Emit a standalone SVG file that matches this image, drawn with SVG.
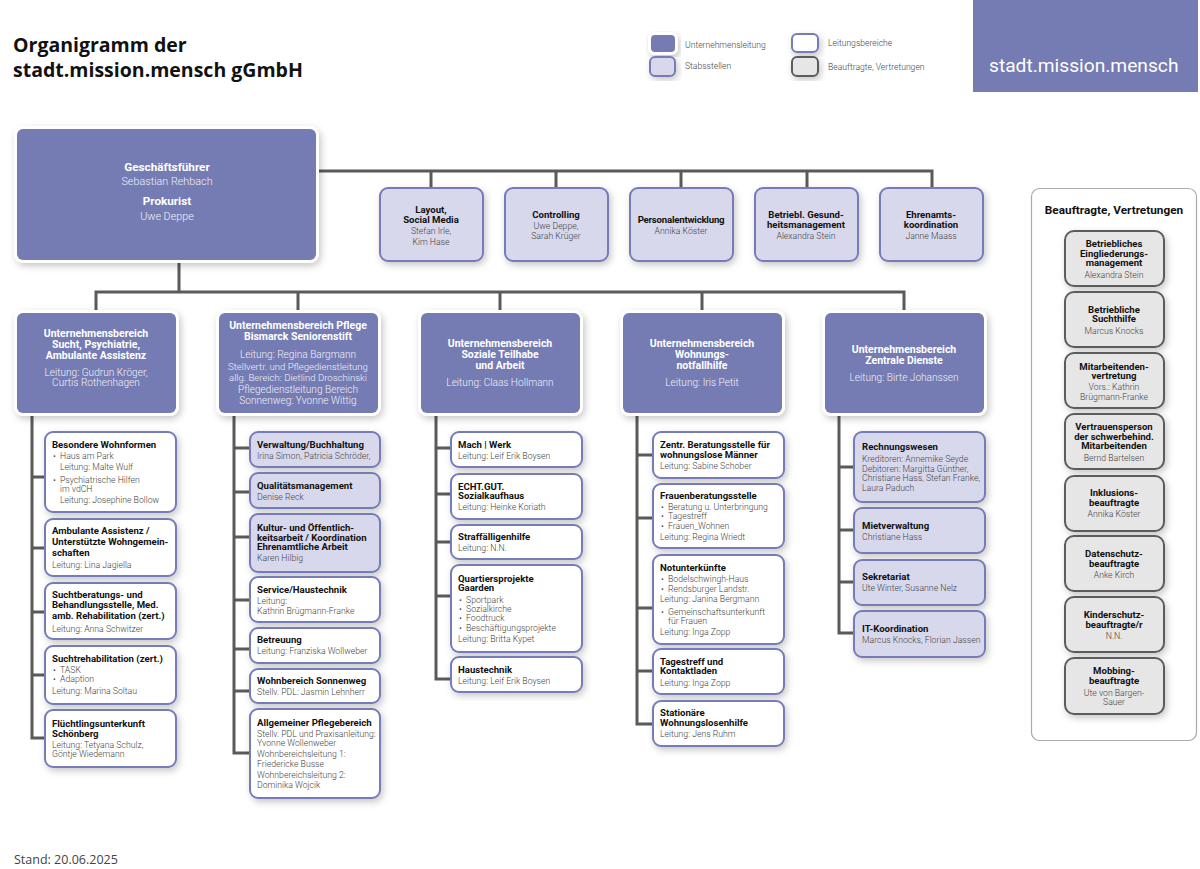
<svg xmlns="http://www.w3.org/2000/svg" width="1200" height="869" viewBox="0 0 1200 869">
<style>
text{font-family:Roboto,"Open Sans","Liberation Sans",sans-serif}
.b{font-size:9.600px;font-weight:700;fill:#111}
.t{font-size:8.700px;font-weight:300;fill:#444}
.c{text-anchor:middle}
.wb{font-size:10.500px;font-weight:700;fill:#fff;text-anchor:middle}
.wt{font-size:10.100px;font-weight:300;fill:#f0f0f8;text-anchor:middle}
.wn{font-size:9.600px}
.wbl{font-size:11.700px}
.wtl{font-size:10.800px}
.l{font-size:8.600px;font-weight:300;fill:#444}
.o{font-family:"Open Sans","Liberation Sans",sans-serif}
.m{fill:#757bb3;stroke:#fff;stroke-width:6;paint-order:stroke;filter:url(#s)}
.p{fill:#fff;stroke:#757bb8;stroke-width:2;filter:url(#s)}
.q{fill:#d8d8ec;stroke:#757bb8;stroke-width:2;filter:url(#s)}
.g{fill:#e6e6e6;stroke:#5c5c5c;stroke-width:2;filter:url(#s)}
.cn{fill:none;stroke:#5a5a5a;stroke-width:3}
</style>
<defs><filter id="s" x="-20%" y="-20%" width="145%" height="145%"><feDropShadow dx="2" dy="3" stdDeviation="3.500" flood-color="#000" flood-opacity=".22"/></filter></defs>
<rect width="1200" height="869" fill="#fff"/>
<g id="title"><text class="o" x="13" y="52" font-size="19.500" font-weight="700" fill="#111">Organigramm der</text><text class="o" x="13" y="77" font-size="19.500" font-weight="700" fill="#111">stadt.mission.mensch gGmbH</text></g>
<g id="legend">
<rect class="m" x="651" y="35" width="24" height="17" rx="4"/><text class="l" x="685" y="48">Unternehmensleitung</text>
<rect class="q" x="650" y="57" width="25" height="19" rx="5"/><text class="l" x="685" y="69">Stabsstellen</text>
<rect class="p" x="792" y="34" width="26" height="18" rx="5"/><text class="l" x="828" y="46">Leitungsbereiche</text>
<rect class="g" x="792" y="57" width="26" height="19" rx="5"/><text class="l" x="828" y="70">Beauftragte, Vertretungen</text>
</g>
<g id="logo"><rect x="973" y="0" width="225" height="92" fill="#757bb3"/><text x="989" y="72" font-size="19.200" fill="#fff">stadt.mission.mensch</text></g>
<g id="connectors">
<path class="cn" d="M318 171H932V188M431 171V188M556 171V188M681 171V188M807 171V188"/>
<path class="cn" d="M179 262V292M96 312V292H904V312M298 292V312M500 292V312M702 292V312"/>
<path class="cn" d="M32 414V738H45M32 477H45M32 548H45M32 612H45M32 675H45"/>
<path class="cn" d="M234 414V753H250M234 448H250M234 492H250M234 537H250M234 600H250M234 649H250M234 691H250"/>
<path class="cn" d="M436 414V679H451M436 448H451M436 494H451M436 542H451M436 596H451"/>
<path class="cn" d="M637 414V724H653M637 455H653M637 518H653M637 608H653M637 671H653"/>
<path class="cn" d="M839 414V633H854M839 467H854M839 530H854M839 582H854"/>
</g>
<g id="ceo"><rect class="m" x="17" y="129" width="299" height="131" rx="6"/>
<text class="wb wbl" x="167" y="171">Geschäftsführer</text><text class="wt wtl" x="167" y="185">Sebastian Rehbach</text><text class="wb wbl" x="167" y="205">Prokurist</text><text class="wt wtl" x="167" y="220">Uwe Deppe</text></g>
<g id="stab1"><rect class="q" x="380" y="188" width="103" height="73" rx="8"/><text class="b c" x="431" y="213">Layout,</text><text class="b c" x="431" y="223">Social Media</text><text class="t c" x="431" y="234">Stefan Irle,</text><text class="t c" x="431" y="245">Kim Hase</text></g>
<g id="stab2"><rect class="q" x="505" y="188" width="103" height="73" rx="8"/><text class="b c" x="556" y="218">Controlling</text><text class="t c" x="556" y="229">Uwe Deppe,</text><text class="t c" x="556" y="239">Sarah Krüger</text></g>
<g id="stab3"><rect class="q" x="630" y="188" width="103" height="73" rx="8"/><text class="b c" x="681" y="223" letter-spacing="-.2">Personalentwicklung</text><text class="t c" x="681" y="234">Annika Köster</text></g>
<g id="stab4"><rect class="q" x="755" y="188" width="103" height="73" rx="8"/><text class="b c" x="806" y="218">Betriebl. Gesund-</text><text class="b c" x="806" y="228">heitsmanagement</text><text class="t c" x="806" y="239">Alexandra Stein</text></g>
<g id="stab5"><rect class="q" x="880" y="188" width="103" height="73" rx="8"/><text class="b c" x="931" y="218">Ehrenamts-</text><text class="b c" x="931" y="228">koordination</text><text class="t c" x="931" y="239">Janne Maass</text></g>
<g id="div1"><rect class="m" x="17" y="313" width="159" height="100" rx="6"/><text class="wb" x="96" y="337">Unternehmensbereich</text><text class="wb" x="96" y="348">Sucht, Psychiatrie,</text><text class="wb" x="96" y="359">Ambulante Assistenz</text><text class="wt" x="96" y="376">Leitung: Gudrun Kröger,</text><text class="wt" x="96" y="386">Curtis Rothenhagen</text></g>
<g id="div2"><rect class="m" x="219" y="313" width="159" height="100" rx="6"/><text class="wb" x="298" y="329">Unternehmensbereich Pflege</text><text class="wb" x="298" y="340">Bismarck Seniorenstift</text><text class="wt" x="298" y="358">Leitung: Regina Bargmann</text><text class="wt wn" x="298" y="370">Stellvertr. und Pflegedienstleitung</text><text class="wt wn" x="298" y="381">allg. Bereich: Dietlind Droschinski</text><text class="wt" x="298" y="393">Pflegedienstleitung Bereich</text><text class="wt" x="298" y="404">Sonnenweg: Yvonne Wittig</text></g>
<g id="div3"><rect class="m" x="421" y="313" width="159" height="100" rx="6"/><text class="wb" x="500" y="347">Unternehmensbereich</text><text class="wb" x="500" y="358">Soziale Teilhabe</text><text class="wb" x="500" y="369">und Arbeit</text><text class="wt" x="500" y="386">Leitung: Claas Hollmann</text></g>
<g id="div4"><rect class="m" x="623" y="313" width="159" height="100" rx="6"/><text class="wb" x="702" y="347">Unternehmensbereich</text><text class="wb" x="702" y="358">Wohnungs-</text><text class="wb" x="702" y="369">notfallhilfe</text><text class="wt" x="702" y="386">Leitung: Iris Petit</text></g>
<g id="div5"><rect class="m" x="825" y="313" width="159" height="100" rx="6"/><text class="wb" x="904" y="353">Unternehmensbereich</text><text class="wb" x="904" y="364">Zentrale Dienste</text><text class="wt" x="904" y="381">Leitung: Birte Johanssen</text></g>
<g id="c1a"><rect class="p" x="45" y="432" width="131" height="80" rx="8"/><text class="b" x="52" y="448">Besondere Wohnformen</text><text class="t" x="53" y="459">•</text><text class="t" x="60" y="459">Haus am Park</text><text class="t" x="60" y="470">Leitung: Malte Wulf</text><text class="t" x="53" y="483">•</text><text class="t" x="60" y="483">Psychiatrische Hilfen</text><text class="t" x="60" y="492">im vdCH</text><text class="t" x="60" y="503">Leitung: Josephine Bollow</text></g>
<g id="c1b"><rect class="p" x="45" y="519" width="131" height="57" rx="8"/><text class="b" x="52" y="534">Ambulante Assistenz /</text><text class="b" x="52" y="545">Unterstützte Wohngemein-</text><text class="b" x="52" y="556">schaften</text><text class="t" x="52" y="568">Leitung: Lina Jagiella</text></g>
<g id="c1c"><rect class="p" x="45" y="583" width="131" height="56" rx="8"/><text class="b" x="52" y="598">Suchtberatungs- und</text><text class="b" x="52" y="608">Behandlungsstelle, Med.</text><text class="b" x="52" y="619">amb. Rehabilitation (zert.)</text><text class="t" x="52" y="632">Leitung: Anna Schwitzer</text></g>
<g id="c1d"><rect class="p" x="45" y="646" width="131" height="58" rx="8"/><text class="b" x="52" y="662">Suchtrehabilitation (zert.)</text><text class="t" x="53" y="673">•</text><text class="t" x="60" y="673">TASK</text><text class="t" x="53" y="682">•</text><text class="t" x="60" y="682">Adaption</text><text class="t" x="52" y="694">Leitung: Marina Soltau</text></g>
<g id="c1e"><rect class="p" x="45" y="710" width="131" height="57" rx="8"/><text class="b" x="52" y="727">Flüchtlingsunterkunft</text><text class="b" x="52" y="737">Schönberg</text><text class="t" x="52" y="748">Leitung: Tetyana Schulz,</text><text class="t" x="52" y="757">Göntje Wiedemann</text></g>
<g id="c2a"><rect class="q" x="250" y="432" width="130" height="35" rx="8"/><text class="b" x="257" y="448">Verwaltung/Buchhaltung</text><text class="t" x="257" y="459">Irina Simon, Patricia Schröder,</text></g>
<g id="c2b"><rect class="q" x="250" y="473" width="130" height="35" rx="8"/><text class="b" x="257" y="489">Qualitätsmanagement</text><text class="t" x="257" y="500">Denise Reck</text></g>
<g id="c2c"><rect class="q" x="250" y="514" width="130" height="58" rx="8"/><text class="b" x="257" y="531">Kultur- und Öffentlich-</text><text class="b" x="257" y="541">keitsarbeit / Koordination</text><text class="b" x="257" y="550">Ehrenamtliche Arbeit</text><text class="t" x="257" y="561">Karen Hilbig</text></g>
<g id="c2d"><rect class="p" x="250" y="577" width="130" height="45" rx="8"/><text class="b" x="257" y="593">Service/Haustechnik</text><text class="t" x="257" y="604">Leitung:</text><text class="t" x="257" y="614">Kathrin Brügmann-Franke</text></g>
<g id="c2e"><rect class="p" x="250" y="628" width="130" height="35" rx="8"/><text class="b" x="257" y="643">Betreuung</text><text class="t" x="257" y="654">Leitung: Franziska Wollweber</text></g>
<g id="c2f"><rect class="p" x="250" y="669" width="130" height="34" rx="8"/><text class="b" x="257" y="684">Wohnbereich Sonnenweg</text><text class="t" x="257" y="695">Stellv. PDL: Jasmin Lehnherr</text></g>
<g id="c2g"><rect class="p" x="250" y="709" width="130" height="89" rx="8"/><text class="b" x="257" y="726">Allgemeiner Pflegebereich</text><text class="t" x="257" y="737">Stellv. PDL und Praxisanleitung:</text><text class="t" x="257" y="746">Yvonne Wollenweber</text><text class="t" x="257" y="757">Wohnbereichsleitung 1:</text><text class="t" x="257" y="767">Friedericke Busse</text><text class="t" x="257" y="778">Wohnbereichsleitung 2:</text><text class="t" x="257" y="788">Dominika Wojcik</text></g>
<g id="c3a"><rect class="p" x="451" y="432" width="131" height="35" rx="8"/><text class="b" x="458" y="448">Mach | Werk</text><text class="t" x="458" y="459">Leitung: Leif Erik Boysen</text></g>
<g id="c3b"><rect class="p" x="451" y="474" width="131" height="45" rx="8"/><text class="b" x="458" y="490">ECHT.GUT.</text><text class="b" x="458" y="499">Sozialkaufhaus</text><text class="t" x="458" y="510">Leitung: Heinke Koriath</text></g>
<g id="c3c"><rect class="p" x="451" y="525" width="131" height="34" rx="8"/><text class="b" x="458" y="540">Straffälligenhilfe</text><text class="t" x="458" y="551">Leitung: N.N.</text></g>
<g id="c3d"><rect class="p" x="451" y="565" width="131" height="87" rx="8"/><text class="b" x="458" y="582">Quartiersprojekte</text><text class="b" x="458" y="591">Gaarden</text><text class="t" x="459" y="603">•</text><text class="t" x="466" y="603">Sportpark</text><text class="t" x="459" y="612">•</text><text class="t" x="466" y="612">Sozialkirche</text><text class="t" x="459" y="621">•</text><text class="t" x="466" y="621">Foodtruck</text><text class="t" x="459" y="631">•</text><text class="t" x="466" y="631">Beschäftigungsprojekte</text><text class="t" x="458" y="642">Leitung: Britta Kypet</text></g>
<g id="c3e"><rect class="p" x="451" y="657" width="131" height="35" rx="8"/><text class="b" x="458" y="673">Haustechnik</text><text class="t" x="458" y="684">Leitung: Leif Erik Boysen</text></g>
<g id="c4a"><rect class="p" x="653" y="432" width="131" height="46" rx="8"/><text class="b" x="660" y="448">Zentr. Beratungsstelle für</text><text class="b" x="660" y="458">wohnungslose Männer</text><text class="t" x="660" y="469">Leitung: Sabine Schober</text></g>
<g id="c4b"><rect class="p" x="653" y="484" width="131" height="64" rx="8"/><text class="b" x="660" y="499">Frauenberatungsstelle</text><text class="t" x="661" y="510">•</text><text class="t" x="668" y="510">Beratung u. Unterbringung</text><text class="t" x="661" y="519">•</text><text class="t" x="668" y="519">Tagestreff</text><text class="t" x="661" y="529">•</text><text class="t" x="668" y="529">Frauen_Wohnen</text><text class="t" x="660" y="540">Leitung: Regina Wriedt</text></g>
<g id="c4c"><rect class="p" x="653" y="555" width="131" height="89" rx="8"/><text class="b" x="660" y="571">Notunterkünfte</text><text class="t" x="661" y="582">•</text><text class="t" x="668" y="582">Bodelschwingh-Haus</text><text class="t" x="661" y="592">•</text><text class="t" x="668" y="592">Rendsburger Landstr.</text><text class="t" x="660" y="602">Leitung: Janina Bergmann</text><text class="t" x="661" y="615">•</text><text class="t" x="668" y="615">Gemeinschaftsunterkunft</text><text class="t" x="668" y="624">für Frauen</text><text class="t" x="660" y="635">Leitung: Inga Zopp</text></g>
<g id="c4d"><rect class="p" x="653" y="649" width="131" height="45" rx="8"/><text class="b" x="660" y="665">Tagestreff und</text><text class="b" x="660" y="674">Kontaktladen</text><text class="t" x="660" y="686">Leitung: Inga Zopp</text></g>
<g id="c4e"><rect class="p" x="653" y="701" width="131" height="45" rx="8"/><text class="b" x="660" y="716">Stationäre</text><text class="b" x="660" y="726">Wohnungslosenhilfe</text><text class="t" x="660" y="737">Leitung: Jens Ruhm</text></g>
<g id="c5a"><rect class="q" x="854" y="432" width="131" height="70" rx="8"/><text class="b" x="862" y="450">Rechnungswesen</text><text class="t" x="862" y="462">Kreditoren: Annemike Seyde</text><text class="t" x="862" y="472">Debitoren: Margitta Günther,</text><text class="t" x="862" y="481">Christiane Hass, Stefan Franke,</text><text class="t" x="862" y="491">Laura Paduch</text></g>
<g id="c5b"><rect class="q" x="854" y="508" width="131" height="45" rx="8"/><text class="b" x="862" y="529">Mietverwaltung</text><text class="t" x="862" y="540">Christiane Hass</text></g>
<g id="c5c"><rect class="q" x="854" y="560" width="131" height="45" rx="8"/><text class="b" x="862" y="580">Sekretariat</text><text class="t" x="862" y="591">Ute Winter, Susanne Nelz</text></g>
<g id="c5d"><rect class="q" x="854" y="611" width="131" height="46" rx="8"/><text class="b" x="862" y="632">IT-Koordination</text><text class="t" x="862" y="643">Marcus Knocks, Florian Jassen</text></g>
<g id="panel"><rect x="1031.500" y="188.500" width="165" height="552" rx="8" fill="#fff" stroke="#aaa" stroke-width="1.200"/><text x="1114" y="214" font-size="11.800" font-weight="700" fill="#111" text-anchor="middle">Beauftragte, Vertretungen</text></g>
<g id="r1"><rect class="g" x="1065" y="231" width="99" height="55" rx="9"/><text class="b c" x="1114" y="247">Betriebliches</text><text class="b c" x="1114" y="257">Eingliederungs-</text><text class="b c" x="1114" y="266">management</text><text class="t c" x="1114" y="278">Alexandra Stein</text></g>
<g id="r2"><rect class="g" x="1065" y="292" width="99" height="55" rx="9"/><text class="b c" x="1114" y="313">Betriebliche</text><text class="b c" x="1114" y="322">Suchthilfe</text><text class="t c" x="1114" y="334">Marcus Knocks</text></g>
<g id="r3"><rect class="g" x="1065" y="353" width="99" height="55" rx="9"/><text class="b c" x="1114" y="370">Mitarbeitenden-</text><text class="b c" x="1114" y="379">vertretung</text><text class="t c" x="1114" y="390">Vors.: Kathrin</text><text class="t c" x="1114" y="400">Brügmann-Franke</text></g>
<g id="r4"><rect class="g" x="1065" y="414" width="99" height="55" rx="9"/><text class="b c" x="1114" y="430">Vertrauensperson</text><text class="b c" x="1114" y="440">der schwerbehind.</text><text class="b c" x="1114" y="449">Mitarbeitenden</text><text class="t c" x="1114" y="461">Bernd Bartelsen</text></g>
<g id="r5"><rect class="g" x="1065" y="476" width="99" height="55" rx="9"/><text class="b c" x="1114" y="496">Inklusions-</text><text class="b c" x="1114" y="506">beauftragte</text><text class="t c" x="1114" y="517">Annika Köster</text></g>
<g id="r6"><rect class="g" x="1065" y="536" width="99" height="55" rx="9"/><text class="b c" x="1114" y="557">Datenschutz-</text><text class="b c" x="1114" y="567">beauftragte</text><text class="t c" x="1114" y="578">Anke Kirch</text></g>
<g id="r7"><rect class="g" x="1065" y="597" width="99" height="55" rx="9"/><text class="b c" x="1114" y="618">Kinderschutz-</text><text class="b c" x="1114" y="628">beauftragte/r</text><text class="t c" x="1114" y="639">N.N.</text></g>
<g id="r8"><rect class="g" x="1065" y="658" width="99" height="56" rx="9"/><text class="b c" x="1114" y="674">Mobbing-</text><text class="b c" x="1114" y="684">beauftragte</text><text class="t c" x="1114" y="696">Ute von Bargen-</text><text class="t c" x="1114" y="705">Sauer</text></g>
<text id="stand" class="o" x="14" y="864" font-size="12.500" fill="#444">Stand: 20.06.2025</text>
</svg>
